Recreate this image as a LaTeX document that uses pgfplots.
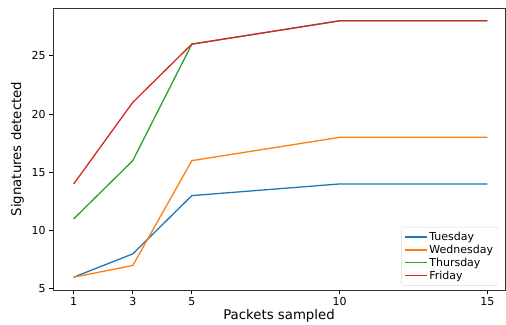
\documentclass[border=0pt]{standalone}
\usepackage{pgfplots}
\pgfplotsset{compat=1.18}
\usepackage{fontspec}
\setmainfont{DejaVu Sans}
\definecolor{tabblue}{HTML}{1F77B4}
\definecolor{taborange}{HTML}{FF7F0E}
\definecolor{tabgreen}{HTML}{2CA02C}
\definecolor{tabred}{HTML}{D62728}
\begin{document}
\begin{tikzpicture}
\begin{axis}[
  scale only axis,
  width=452pt, height=282pt,
  xmin=0.3, xmax=15.6,
  ymin=4.9, ymax=29.1,
  xtick={1,3,5,10,15},
  ytick={5,10,15,20,25},
  tick align=outside,
  tick pos=left,
  major tick length=3.8pt,
  every tick/.style={black, line width=0.85pt},
  axis line style={line width=0.85pt, black!80},
  /pgf/number format/assume math mode=true,
  tick label style={font=\fontsize{11}{13}\selectfont},
  xlabel={Packets sampled},
  ylabel={Signatures detected},
  label style={font=\fontsize{13.3}{15}\selectfont},
  xlabel style={yshift=3pt},
  ylabel style={yshift=1pt},
  legend style={font=\fontsize{11}{13}\selectfont, draw=black!15, rounded corners=2pt, row sep=-1pt, inner sep=3pt, at={(0.985,0.015)}, anchor=south east},
  legend cell align=left,
  legend image code/.code={\draw[#1, line width=1.3pt] (0pt,0pt) -- (0.75cm,0pt);},
]
\addplot[tabblue, line width=1.3pt] coordinates {(1,6) (3,8) (5,13) (10,14) (15,14)};
\addlegendentry{Tuesday}
\addplot[taborange, line width=1.3pt] coordinates {(1,6) (3,7) (5,16) (10,18) (15,18)};
\addlegendentry{Wednesday}
\addplot[tabgreen, line width=1.3pt] coordinates {(1,11) (3,16) (5,26) (10,28) (15,28)};
\addlegendentry{Thursday}
\addplot[tabred, line width=1.3pt] coordinates {(1,14) (3,21) (5,26) (10,28) (15,28)};
\addlegendentry{Friday}
\end{axis}
\pgfresetboundingbox
\path ([shift={(-53pt,-35pt)}]current axis.south west) rectangle ([shift={(1pt,8pt)}]current axis.north east);
\end{tikzpicture}
\end{document}
